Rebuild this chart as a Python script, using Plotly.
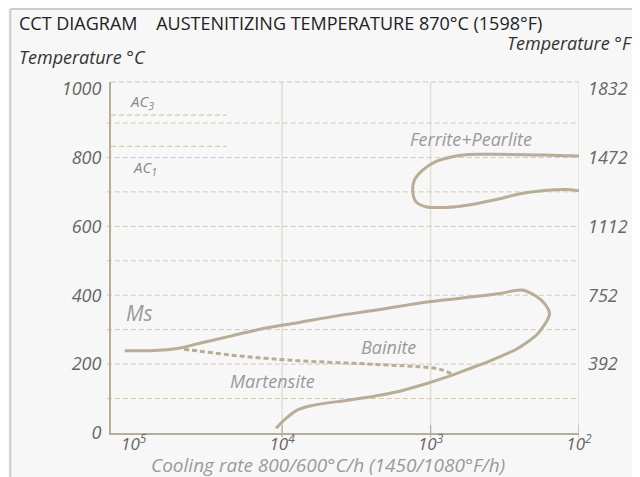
import plotly.graph_objects as go

# ---------------- data ----------------
# Ferrite+Pearlite nose (cooling rate degC/h, temperature degC)
fp_rate = [100, 171, 368, 582, 714, 923, 1130, 1285, 1318, 1253, 1074, 791, 553, 368, 244, 171, 120, 100]
fp_temp = [804, 807, 809, 808, 802, 788, 763, 734, 700, 671, 657, 655, 662, 677, 695, 704, 707, 703]

# Ms line + bainite region boundary (solid)
bain_rate = [115000, 78300, 49550, 36500, 21900, 13120, 7870, 4270, 2310, 1026, 500, 341, 244, 209,
             175, 158, 171, 189, 221, 270, 332, 407, 500, 714, 1021, 1387, 1702, 2310, 3500, 6100,
             7870, 9660, 10990]
bain_temp = [239, 239, 246, 260, 282, 304, 320, 340, 357, 381, 396, 405, 415, 405,
             381, 347, 314, 289, 265, 241, 224, 207, 193, 168, 146, 129, 119, 108, 96, 81,
             67, 38, 14]

# Ms continuation (dotted)
ms_rate = [45800, 36500, 21900, 13120, 7870, 2310, 1021, 832, 714]
ms_temp = [243, 238, 226, 217, 210, 199, 190, 183, 171]

# critical temperatures
ac3_temp = 923
ac1_temp = 832
ac_rate_span = [142000, 23700]

grid_temps_c = [100, 200, 300, 400, 500, 600, 700, 800, 900]
decade_rates = [1e4, 1e3, 1e2]

x_tickvals = [1e5, 1e4, 1e3, 1e2]
x_ticktext = ["10<sup>5</sup>", "10<sup>4</sup>", "10<sup>3</sup>", "10<sup>2</sup>"]
y_tickvals_c = [0, 200, 400, 600, 800, 1000]
y_tickvals_f = [392, 752, 1112, 1472, 1832]

# ---------------- style ----------------
FONT = "Open Sans"
LINE = "#b8ad96"
GRID = "#d2c9b8"
VGRID = "#e4dfd4"
LABEL = "#9a9a9a"
TICK = "#666666"
BG = "#f7f7f7"

Y_TOP_C = 1019
fig = go.Figure()

fig.add_trace(go.Scatter(x=fp_rate, y=fp_temp, mode="lines",
                         line=dict(color=LINE, width=3, shape="spline"), hoverinfo="skip"))
fig.add_trace(go.Scatter(x=bain_rate, y=bain_temp, mode="lines",
                         line=dict(color=LINE, width=3, shape="spline"), hoverinfo="skip"))
fig.add_trace(go.Scatter(x=ms_rate, y=ms_temp, mode="lines",
                         line=dict(color=LINE, width=3, shape="spline", dash="5px,3px"), hoverinfo="skip"))
for t in (ac3_temp, ac1_temp):
    fig.add_trace(go.Scatter(x=ac_rate_span, y=[t, t], mode="lines",
                             line=dict(color=GRID, width=1.2, dash="5px,3px"), hoverinfo="skip"))
# invisible trace for the Fahrenheit axis
fig.add_trace(go.Scatter(x=[1e3], y=[500], yaxis="y2", mode="markers",
                         marker=dict(opacity=0), hoverinfo="skip"))

shapes = []
# frame (left and top edges)
shapes.append(dict(type="line", xref="paper", yref="paper", x0=-0.2152, x1=-0.2152, y0=-0.14, y1=1.208,
                   line=dict(color="#cccccc", width=2), layer="below"))
shapes.append(dict(type="line", xref="paper", yref="paper", x0=-0.2152, x1=1.13, y0=1.208, y1=1.208,
                   line=dict(color="#cccccc", width=2), layer="below"))
# vertical decade grid lines and tick marks
for r in decade_rates:
    shapes.append(dict(type="line", xref="x", yref="paper", x0=r, x1=r, y0=0, y1=1,
                       line=dict(color=VGRID, width=1.5), layer="below"))
    shapes.append(dict(type="line", xref="x", yref="paper", x0=r, x1=r, y0=-0.012, y1=0.023,
                       line=dict(color=LINE, width=1.2)))
# horizontal dashed grid
for t in grid_temps_c:
    shapes.append(dict(type="line", xref="paper", yref="y", x0=-0.009, x1=1, y0=t, y1=t,
                       line=dict(color=GRID, width=1, dash="5px,3px"), layer="below"))
shapes.append(dict(type="line", xref="paper", yref="paper", x0=0, x1=1, y0=1, y1=1,
                   line=dict(color=GRID, width=1, dash="5px,3px"), layer="below"))

ann = []
def text(x, y, s, size, color, xanchor="center", italic=True):
    ann.append(dict(x=x, y=y, xref="paper", yref="paper", text=s, showarrow=False,
                    xanchor=xanchor, yanchor="middle",
                    font=dict(family=FONT, size=size, color=color, style="italic" if italic else "normal")))

text(-0.201, 1.168, "CCT DIAGRAM&nbsp;&nbsp;&nbsp;&nbsp;AUSTENITIZING TEMPERATURE 870°C (1598°F)", 18, "#222222",
     xanchor="left", italic=False)
text(-0.201, 1.071, "Temperature °C", 18, "#333333", xanchor="left")
text(1.117, 1.11, "Temperature °F", 18, "#333333", xanchor="right")
text(0.464, -0.09, "Cooling rate 800/600°C/h (1450/1080°F/h)", 19, LABEL)
text(0.036, 0.944, "AC<sub>3</sub>", 15, "#888888", xanchor="left")
text(0.042, 0.754, "AC<sub>1</sub>", 15, "#888888", xanchor="left")
text(0.769, 0.837, "Ferrite+Pearlite", 18, LABEL)
text(0.060, 0.341, "Ms", 21, LABEL)
text(0.593, 0.244, "Bainite", 18, LABEL)
text(0.346, 0.148, "Martensite", 18, LABEL)

fig.update_layout(
    width=632, height=469,
    margin=dict(l=103, r=55, t=74, b=44),
    paper_bgcolor=BG,
    plot_bgcolor="rgba(0,0,0,0)",
    showlegend=False,
    font=dict(family=FONT),
    shapes=shapes,
    annotations=ann,
    xaxis=dict(type="log", range=[5.153, 2], tickvals=x_tickvals, ticktext=x_ticktext,
               showgrid=False, zeroline=False, showline=True, linecolor=LINE, linewidth=2,
               ticks="", ticklabelstandoff=-5,
               tickfont=dict(family=FONT, size=17, color=TICK, style="italic")),
    yaxis=dict(range=[0, Y_TOP_C], tickvals=y_tickvals_c, showgrid=False, zeroline=False,
               showline=True, linecolor=LINE, linewidth=2, ticks="", ticklabelstandoff=4,
               tickfont=dict(family=FONT, size=18, color=TICK, style="italic")),
    yaxis2=dict(overlaying="y", side="right", range=[32, Y_TOP_C * 1.8 + 32], tickvals=y_tickvals_f,
                showgrid=False, zeroline=False, showline=False, ticks="", ticklabelstandoff=8,
                tickfont=dict(family=FONT, size=18, color=TICK, style="italic")),
)

fig.write_html("out.html")
